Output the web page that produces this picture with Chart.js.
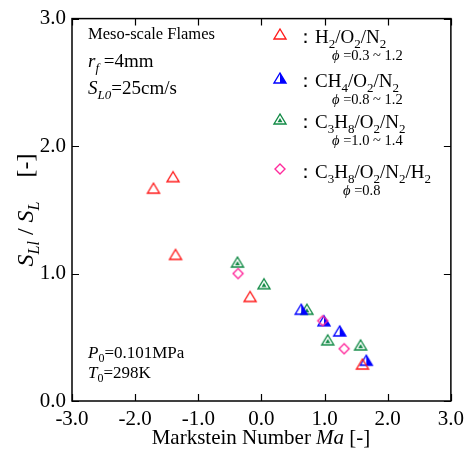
<!DOCTYPE html>
<html>
<head>
<meta charset="utf-8">
<title>Markstein Number</title>
<script src="https://cdn.jsdelivr.net/npm/chart.js"></script>
<style>html,body{margin:0;padding:0;background:#fff;}canvas{display:block;}</style>
</head>
<body>
<canvas id="chart" width="470" height="450"></canvas>
<script>
// Markstein number vs. S_Ll/S_L
const h2Ma  = [-1.71, -1.40, -1.36, -0.18, 1.60];
const h2S   = [1.67, 1.76, 1.15, 0.82, 0.29];
const ch4Ma = [0.63, 0.99, 1.24, 1.66];
const ch4S  = [0.72, 0.63, 0.55, 0.32];
const c3Ma  = [-0.38, 0.04, 0.72, 1.05, 1.57];
const c3S   = [1.09, 0.92, 0.72, 0.48, 0.44];
const mixMa = [-0.37, 0.97, 1.31];
const mixS  = [1.00, 0.63, 0.41];
const xTicks = [-3, -2, -1, 0, 1, 2, 3];
const yTicks = [0, 1, 2, 3];

const RED = '#ff1a1a', BLUE = '#0000ff', GREEN = '#118a45', PINK = '#ff2a9c';
const SERIF = '"Liberation Serif", "DejaVu Serif", serif';

function marker(kind, color) {
  const c = document.createElement('canvas');
  c.width = 16; c.height = 16;
  const g = c.getContext('2d');
  g.strokeStyle = color; g.fillStyle = color; g.lineWidth = 1.4;
  g.beginPath();
  if (kind === 'diamond') {
    g.moveTo(8, 3); g.lineTo(13, 8); g.lineTo(8, 13); g.lineTo(3, 8);
  } else {
    g.moveTo(8, 3); g.lineTo(14, 13); g.lineTo(2, 13);
  }
  g.closePath(); g.stroke();
  if (kind === 'half') {
    g.beginPath(); g.moveTo(8, 3); g.lineTo(14, 13); g.lineTo(8, 13); g.closePath(); g.fill();
  }
  if (kind === 'inner') {
    g.beginPath(); g.moveTo(8, 7); g.lineTo(10.5, 11.2); g.lineTo(5.5, 11.2); g.closePath(); g.fill();
  }
  return c;
}

const mkRed = marker('tri', RED), mkBlue = marker('half', BLUE),
      mkGreen = marker('inner', GREEN), mkPink = marker('diamond', PINK);

const pts = (xs, ys) => xs.map((v, i) => ({x: v, y: ys[i]}));

function rich(ctx, x, y, parts, size) {
  parts.forEach(p => {
    const s = p.sub ? Math.round(size * 0.68) : size;
    ctx.font = (p.it ? 'italic ' : '') + s + 'px ' + SERIF;
    ctx.fillText(p.t, x, y + (p.sub ? size * 0.25 : 0));
    x += ctx.measureText(p.t).width;
  });
  return x;
}
function richWidth(ctx, parts, size) {
  let w = 0;
  parts.forEach(p => {
    const s = p.sub ? Math.round(size * 0.68) : size;
    ctx.font = (p.it ? 'italic ' : '') + s + 'px ' + SERIF;
    w += ctx.measureText(p.t).width;
  });
  return w;
}

const legendRows = [
  {mk: mkRed, y: 34, f: [{t: '：'}, {t: 'H'}, {t: '2', sub: 1}, {t: '/O'}, {t: '2', sub: 1}, {t: '/N'}, {t: '2', sub: 1}], phi: '=0.3 ~ 1.2', px: 332},
  {mk: mkBlue, y: 78, f: [{t: '：'}, {t: 'CH'}, {t: '4', sub: 1}, {t: '/O'}, {t: '2', sub: 1}, {t: '/N'}, {t: '2', sub: 1}], phi: '=0.8 ~ 1.2', px: 332},
  {mk: mkGreen, y: 119, f: [{t: '：'}, {t: 'C'}, {t: '3', sub: 1}, {t: 'H'}, {t: '8', sub: 1}, {t: '/O'}, {t: '2', sub: 1}, {t: '/N'}, {t: '2', sub: 1}], phi: '=1.0 ~ 1.4', px: 332},
  {mk: mkPink, y: 169, f: [{t: '：'}, {t: 'C'}, {t: '3', sub: 1}, {t: 'H'}, {t: '8', sub: 1}, {t: '/O'}, {t: '2', sub: 1}, {t: '/N'}, {t: '2', sub: 1}, {t: '/H'}, {t: '2', sub: 1}], phi: '=0.8', px: 343}
];

const decor = {
  id: 'decor',
  afterDraw(chart) {
    const {ctx, chartArea: a, scales: {x, y}} = chart;
    ctx.save();
    ctx.strokeStyle = '#000';
    ctx.lineWidth = 1.5;
    ctx.strokeRect(a.left, a.top, a.right - a.left, a.bottom - a.top);
    ctx.lineWidth = 1.2;
    ctx.beginPath();
    xTicks.forEach(v => {
      const p = Math.round(x.getPixelForValue(v)) + 0.5;
      ctx.moveTo(p, a.bottom); ctx.lineTo(p, a.bottom - 7);
      ctx.moveTo(p, a.top); ctx.lineTo(p, a.top + 7);
    });
    yTicks.forEach(v => {
      const p = Math.round(y.getPixelForValue(v)) + 0.5;
      ctx.moveTo(a.left, p); ctx.lineTo(a.left + 7, p);
      ctx.moveTo(a.right, p); ctx.lineTo(a.right - 7, p);
    });
    ctx.stroke();

    ctx.fillStyle = '#000';
    ctx.textBaseline = 'alphabetic';
    ctx.textAlign = 'left';

    // axis titles
    const xt = [{t: 'Markstein Number '}, {t: 'Ma', it: 1}, {t: ' [-]'}];
    rich(ctx, 261 - richWidth(ctx, xt, 21) / 2, 444, xt, 21);
    const yt = [{t: 'S', it: 1}, {t: 'Ll', it: 1, sub: 1}, {t: ' / '}, {t: 'S', it: 1}, {t: 'L', it: 1, sub: 1}, {t: '    [-]'}];
    ctx.save();
    ctx.translate(33, 210);
    ctx.rotate(-Math.PI / 2);
    rich(ctx, -richWidth(ctx, yt, 24) / 2, 0, yt, 24);
    ctx.restore();

    // annotations
    rich(ctx, 88, 39, [{t: 'Meso-scale Flames'}], 16.5);
    rich(ctx, 88, 67, [{t: 'r', it: 1}, {t: 'f', it: 1, sub: 1}, {t: ' =4mm'}], 19);
    rich(ctx, 88, 94, [{t: 'S', it: 1}, {t: 'L0', it: 1, sub: 1}, {t: '=25cm/s'}], 19);
    rich(ctx, 88, 358, [{t: 'P', it: 1}, {t: '0', sub: 1}, {t: '=0.101MPa'}], 17);
    rich(ctx, 88, 378, [{t: 'T', it: 1}, {t: '0', sub: 1}, {t: '=298K'}], 17);

    // legend
    legendRows.forEach(r => {
      ctx.drawImage(r.mk, 272, r.y - 8);
      rich(ctx, 296, r.y + 9, r.f, 19);
      rich(ctx, r.px, r.y + 26, [{t: 'ϕ', it: 1}, {t: ' ' + r.phi}], 14.5);
    });
    ctx.restore();
  }
};

const tickFont = {family: SERIF, size: 21};

new Chart(document.getElementById('chart'), {
  type: 'scatter',
  data: {
    datasets: [
      {label: 'C3H8/O2/N2/H2', data: pts(mixMa, mixS), pointStyle: mkPink, order: 1},
      {label: 'H2/O2/N2', data: pts(h2Ma, h2S), pointStyle: mkRed, order: 2},
      {label: 'CH4/O2/N2', data: pts(ch4Ma, ch4S), pointStyle: mkBlue, order: 3},
      {label: 'C3H8/O2/N2', data: pts(c3Ma, c3S), pointStyle: mkGreen, order: 4}
    ]
  },
  options: {
    responsive: false,
    animation: false,
    layout: {padding: {top: 17, right: 15, left: 0, bottom: 0}},
    plugins: {legend: {display: false}, tooltip: {enabled: false}},
    scales: {
      x: {
        type: 'linear', min: -3, max: 3,
        afterFit: s => { s.height = 49; },
        afterBuildTicks: s => { s.ticks = xTicks.map(v => ({value: v})); },
        grid: {display: false, drawTicks: false},
        border: {display: false},
        ticks: {font: tickFont, color: '#000', padding: 6, maxRotation: 0, callback: v => v.toFixed(1)}
      },
      y: {
        type: 'linear', min: 0, max: 3,
        afterFit: s => { s.width = 72; },
        afterBuildTicks: s => { s.ticks = yTicks.map(v => ({value: v})); },
        grid: {display: false, drawTicks: false},
        border: {display: false},
        ticks: {font: tickFont, color: '#000', padding: 6, callback: v => v.toFixed(1)}
      }
    }
  },
  plugins: [decor]
});
</script>
</body>
</html>
